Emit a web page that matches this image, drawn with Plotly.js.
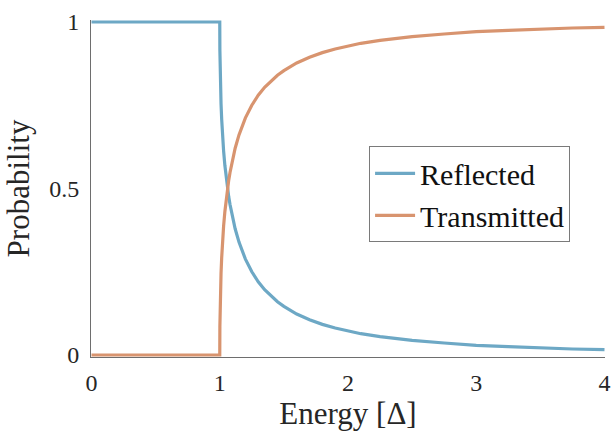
<!DOCTYPE html>
<html><head><meta charset="utf-8">
<script src="https://cdn.plot.ly/plotly-3.0.1.min.js"></script>
<style>
html,body{margin:0;padding:0;background:#fff}
#chart text{font-family:"Liberation Serif","DejaVu Serif",serif !important;}
#warm{position:absolute;left:0;top:0;font-family:"Liberation Serif";font-size:20px;color:transparent;pointer-events:none}
</style>
</head><body>
<div id="warm">&nbsp;</div>
<div id="chart" style="width:612px;height:432px"></div>
<script>
const energy = [0, 0.5, 0.999, 1.0, 1.001, 1.002, 1.003, 1.005, 1.01, 1.015, 1.02, 1.025, 1.03, 1.04, 1.05, 1.06, 1.07, 1.08, 1.1, 1.12, 1.15, 1.2, 1.25, 1.3, 1.35, 1.4, 1.45, 1.5, 1.6, 1.7, 1.8, 1.9, 2.0, 2.1, 2.25, 2.4, 2.5, 2.75, 3.0, 3.25, 3.5, 3.75, 4.0];
const reflected = [1, 1, 1, 1, 0.915, 0.881, 0.857, 0.819, 0.754, 0.708, 0.671, 0.640, 0.613, 0.569, 0.533, 0.502, 0.475, 0.452, 0.412, 0.379, 0.339, 0.288, 0.250, 0.220, 0.196, 0.177, 0.160, 0.146, 0.123, 0.106, 0.092, 0.081, 0.072, 0.064, 0.055, 0.048, 0.044, 0.036, 0.029, 0.025, 0.021, 0.018, 0.016];
const transmitted = [0, 0, 0, 0, 0.085, 0.119, 0.143, 0.181, 0.246, 0.292, 0.329, 0.360, 0.387, 0.431, 0.467, 0.498, 0.525, 0.548, 0.588, 0.621, 0.661, 0.712, 0.750, 0.780, 0.804, 0.823, 0.840, 0.854, 0.877, 0.894, 0.908, 0.919, 0.928, 0.936, 0.945, 0.952, 0.956, 0.964, 0.971, 0.975, 0.979, 0.982, 0.984];
const seriesNames = ["Reflected", "Transmitted"];
const xTicks = [0, 1, 2, 3, 4];
const yTicks = [0, 0.5, 1];
const yTickLabels = ["0", "0.5", "1"];

const serifFamily = "Liberation Serif";
const traces = [
  {x: energy, y: reflected, name: seriesNames[0], mode: "lines", cliponaxis: false,
   line: {color: "#6da8c5", width: 3.2}},
  {x: energy, y: transmitted, name: seriesNames[1], mode: "lines", cliponaxis: false,
   line: {color: "#d8946f", width: 3.2}}
];
const layout = {
  width: 612, height: 432,
  margin: {l: 91, r: 7, t: 20, b: 75},
  paper_bgcolor: "#fff", plot_bgcolor: "#fff",
  font: {family: serifFamily, color: "#262626", size: 20},
  showlegend: true,
  legend: {x: 0.541, y: 0.625, xanchor: "left", yanchor: "top",
    bordercolor: "#7a7a7a", borderwidth: 1, bgcolor: "#fff",
    font: {family: serifFamily, size: 30, color: "#111"}, itemwidth: 40, tracegroupgap: 0},
  xaxis: {range: [-0.004, 4.004], tickvals: xTicks, ticktext: xTicks.map(String),
    showgrid: false, zeroline: false, showline: true, linecolor: "#6e6e6e", linewidth: 1,
    ticks: "", ticklabelstandoff: 4,
    tickfont: {family: serifFamily, size: 24, color: "#262626"},
    title: {text: "Energy [Δ]", font: {family: serifFamily, size: 31, color: "#262626"}, standoff: 7}},
  yaxis: {range: [-0.006, 1.006], tickvals: yTicks, ticktext: yTickLabels,
    showgrid: false, zeroline: false, showline: true, linecolor: "#6e6e6e", linewidth: 1,
    ticks: "", ticklabelstandoff: 6,
    tickfont: {family: serifFamily, size: 24, color: "#262626"},
    title: {text: "Probability", font: {family: serifFamily, size: 31, color: "#262626"}, standoff: 10}}
};
function draw() {
  return Plotly.newPlot("chart", traces, layout, {displayModeBar: false, staticPlot: true});
}
draw().then(function () {
  const mark = document.createElement("span");
  mark.style.fontFamily = "monospace";
  mark.style.position = "absolute";
  mark.style.left = "0"; mark.style.top = "0";
  mark.innerHTML = "&nbsp;";
  document.body.appendChild(mark);
});
if (document.fonts) {
  document.fonts.load('24px "Liberation Serif"').then(function () { return draw(); }, function () {});
}
</script>
</body></html>
